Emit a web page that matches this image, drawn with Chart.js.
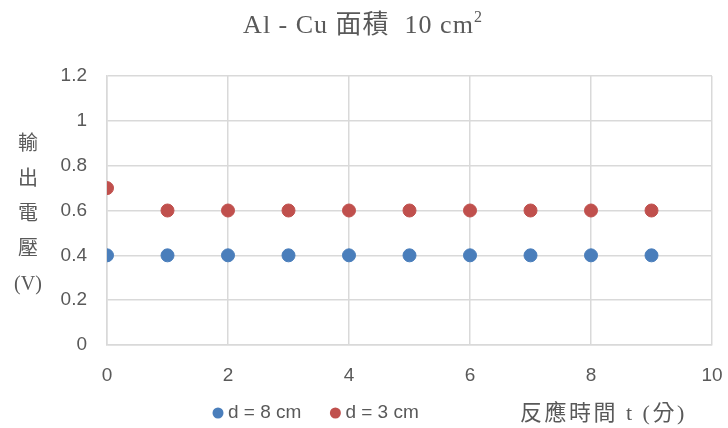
<!DOCTYPE html>
<html>
<head>
<meta charset="utf-8">
<script src="https://cdn.jsdelivr.net/npm/chart.js@4"></script>
<style>
  html, body { margin: 0; padding: 0; background: #fff; }
  #wrap { width: 728px; height: 428px; }
</style>
</head>
<body>
<div id="wrap"><canvas id="voltChart" width="728" height="428"></canvas></div>
<script>
// Reaction time (minutes) and output voltage for the two electrode gaps
const times = [0, 1, 2, 3, 4, 5, 6, 7, 8, 9];
const voltsD8 = [0.4, 0.4, 0.4, 0.4, 0.4, 0.4, 0.4, 0.4, 0.4, 0.4];
const voltsD3 = [0.7, 0.6, 0.6, 0.6, 0.6, 0.6, 0.6, 0.6, 0.6, 0.6];
const seriesNames = ['d = 8 cm', 'd = 3 cm'];
const xTicks = [0, 2, 4, 6, 8, 10];
const yTicks = [0, 0.2, 0.4, 0.6, 0.8, 1, 1.2];

const titleText = 'Al - Cu 面積  10 cm';
const titleSup = '2';
const yTitleChars = ['輸', '出', '電', '壓', '(V)'];
const xTitleText = '反應時間 t (分)';

const blue = '#4a7ebb';
const red = '#c0504d';
const gridColor = '#d9d9d9';
const textColor = '#595959';
const tickFont = "'Liberation Sans', Arial, sans-serif";
const serifFont = "'Liberation Serif', 'Noto Sans CJK TC', serif";

const toPoints = (xs, ys) => xs.map((x, i) => ({ x: x, y: ys[i] }));

// Title, stacked y-axis title, legend and x-axis title
const labelsPlugin = {
    id: 'labels',
    afterDraw(chart) {
        const ctx = chart.ctx;
        ctx.save();
        ctx.fillStyle = textColor;
        ctx.textBaseline = 'alphabetic';
        ctx.textAlign = 'left';

        // title with superscript
        ctx.font = "26px " + serifFont;
        ctx.letterSpacing = '1px';
        const mainW = ctx.measureText(titleText).width;
        ctx.font = "16px " + serifFont;
        const supW = ctx.measureText(titleSup).width;
        const tx = 363 - (mainW + supW) / 2;
        ctx.font = "26px " + serifFont;
        ctx.fillText(titleText, tx, 33);
        ctx.font = "16px " + serifFont;
        ctx.fillText(titleSup, tx + mainW, 22);

        ctx.letterSpacing = '0px';
        ctx.textBaseline = 'middle';
        ctx.textAlign = 'center';
        ctx.font = "20px " + serifFont;
        yTitleChars.forEach((ch, i) => {
            ctx.fillText(ch, 28, 145 + i * 35);
        });

        // legend
        ctx.textAlign = 'left';
        ctx.font = "19px " + tickFont;
        let x = 212;
        chart.data.datasets.forEach((ds) => {
            ctx.fillStyle = ds.backgroundColor;
            ctx.beginPath();
            ctx.arc(x + 6, 413, 5.5, 0, Math.PI * 2);
            ctx.fill();
            ctx.fillStyle = textColor;
            ctx.fillText(ds.label, x + 16, 413);
            x += 16 + ctx.measureText(ds.label).width + 28;
        });

        ctx.font = "22px " + serifFont;
        ctx.letterSpacing = '2.5px';
        ctx.fillText(xTitleText, 520, 414);
        ctx.restore();
    }
};

const ctx = document.getElementById('voltChart').getContext('2d');
new Chart(ctx, {
    type: 'scatter',
    data: {
        datasets: [{
            label: seriesNames[0],
            data: toPoints(times, voltsD8),
            backgroundColor: blue,
            borderColor: blue,
            pointRadius: 6.5,
            pointHoverRadius: 6.5
        }, {
            label: seriesNames[1],
            data: toPoints(times, voltsD3),
            backgroundColor: red,
            borderColor: red,
            pointRadius: 6.5,
            pointHoverRadius: 6.5
        }]
    },
    options: {
        responsive: false,
        animation: false,
        layout: { padding: { top: 76, right: 16, bottom: 0, left: 0 } },
        plugins: {
            legend: { display: false },
            tooltip: { enabled: false }
        },
        scales: {
            x: {
                type: 'linear',
                min: 0,
                max: 10,
                afterBuildTicks: (s) => { s.ticks = xTicks.map(v => ({ value: v })); },
                afterFit: (s) => {
                    s.height = 83;
                    s.paddingLeft = 0;
                    s.paddingRight = 0;
                },
                grid: { color: gridColor, lineWidth: 1.5, drawTicks: false },
                border: { color: gridColor, width: 1.5 },
                ticks: {
                    padding: 19,
                    color: textColor,
                    font: { family: tickFont, size: 19 },
                    maxRotation: 0
                }
            },
            y: {
                min: 0,
                max: 1.2,
                afterBuildTicks: (s) => { s.ticks = yTicks.map(v => ({ value: v })); },
                afterFit: (s) => {
                    s.width = 107;
                    s.paddingTop = 0;
                    s.paddingBottom = 0;
                },
                grid: { color: gridColor, lineWidth: 1.5, drawTicks: false },
                border: { color: gridColor, width: 1.5 },
                ticks: {
                    padding: 20,
                    color: textColor,
                    font: { family: tickFont, size: 19 },
                    callback: (v) => String(Math.round(v * 10) / 10)
                }
            }
        }
    },
    plugins: [labelsPlugin]
});
</script>
</body>
</html>
